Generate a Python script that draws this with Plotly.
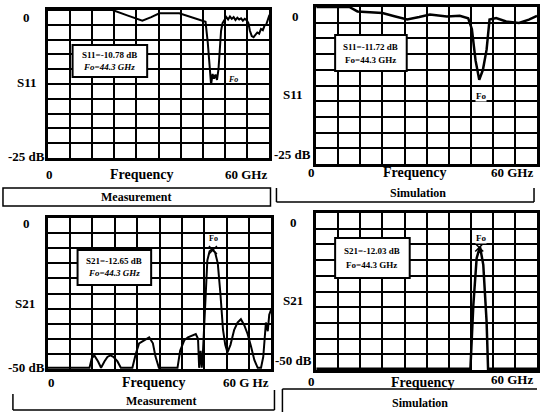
import plotly.graph_objects as go

# ---------------- data ----------------
f_s11_meas = [0, 17.5, 21.5, 25.6, 28, 30.2, 35.6, 38.5, 41.0, 42.7, 43.3, 43.8, 44.2, 44.6, 45.0, 45.4,
              45.8, 46.2, 46.6, 46.9, 47.3, 47.8, 48.3, 48.8, 49.3, 49.8, 50.3, 50.8, 51.3, 51.8, 52.3,
              52.8, 53.3, 53.8, 54.3, 54.7, 55.2, 55.7, 56.2, 56.7, 57.2, 57.7, 58.2, 58.7, 59.1, 59.6, 60]
s11_meas = [0, 0, -0.9, -1.8, -1.2, -0.55, -0.55, -1.1, -1.7, -2.0, -5.5, -9.5, -12.6, -10.8, -11.6, -10.9,
            -11.8, -10.0, -6.5, -3.5, -2.2, -1.6, -1.2, -1.6, -1.1, -1.5, -1.2, -1.7, -1.3, -1.6, -1.4,
            -1.8, -1.5, -1.7, -2.2, -3.5, -4.4, -4.6, -4.2, -3.8, -4.0, -3.2, -3.4, -2.6, -2.5, -1.5, -0.8]

f_s11_sim = [0, 9, 11.2, 18, 21.5, 24.7, 28, 30.9, 35.5, 39, 41.3, 42.3, 43.3, 44.3, 45.3, 46.3, 47.1,
             48.9, 51.6, 55.1, 57.8, 60]
s11_sim = [0, 0, -0.7, -0.96, -1.5, -2.0, -1.6, -1.2, -1.5, -1.4, -1.8, -3.5, -8.5, -11.6, -10.0, -6.8,
           -2.0, -1.75, -2.3, -2.55, -2.0, -1.4]

f_s21_meas = [0, 11.2, 11.8, 12.5, 13.5, 14.3, 15.2, 16.0, 16.8, 17.6, 18.7, 19.6, 22.7, 23.6, 24.5,
              25.8, 27.2, 28.2, 28.9, 29.8, 34.8, 35.5, 36.6, 37.6, 38.8, 39.7, 40.3, 40.6, 41.0, 41.3,
              41.6, 42.0, 42.4, 42.8, 43.4, 44.1, 44.9, 45.6, 46.3, 47.0, 47.6, 48.2, 49.0, 50.0, 50.9,
              51.8, 52.7, 53.6, 54.5, 55.4, 56.3, 57.2, 57.8, 58.2, 58.5, 59.0, 59.4, 60]
s21_meas = [-49.6, -49.6, -46.5, -45.5, -47.5, -49.6, -47.5, -46.0, -45.5, -46.0, -47.5, -49.6, -49.6,
            -45.0, -41.5, -40.4, -39.5, -41.5, -45.9, -49.6, -49.6, -44.0, -40.5, -39.5, -38.8, -38.4,
            -40.0, -49.6, -44.0, -49.6, -45.0, -35.0, -22.0, -14.0, -11.0, -10.3, -11.5, -15.0, -25.0,
            -37.0, -42.0, -44.5, -42.0, -37.0, -34.6, -33.5, -35.5, -38.4, -42.5, -47.0, -49.6, -49.6,
            -45.9, -40.0, -34.6, -37.5, -32.0, -30.0]

f_s21_sim = [0, 41.9, 42.7, 43.6, 44.5, 45.4, 46.3, 46.7, 60]
s21_sim = [-49.6, -49.6, -29.3, -14.4, -10.7, -16.5, -34.6, -49.6, -49.6]

fo_ghz = 44.3
fo_peak_meas = -10.6
fo_peak_sim = -11.0

box_texts = {
    "tl": ["S11=-10.78 dB", "Fo=44.3 GHz"],
    "tr": ["S11=-11.72 dB", "Fo=44.3 GHz"],
    "bl": ["S21=-12.65 dB", "Fo=44.3 GHz"],
    "br": ["S21=-12.03 dB", "Fo=44.3 GHz"],
}
x_tick_labels = ["0", "60 GHz"]
x_title = "Frequency"

# ---------------- layout helpers ----------------
W, H = 540, 412
FONT = "Liberation Serif"


def px(x):
    return x / W


def py(y):
    return 1 - y / H


panels = {
    # name: (x0, x1, ytop, ybottom, ymin)
    "tl": (48, 271, 10, 158, -25),
    "tr": (318, 540, 7, 164, -25),
    "bl": (48, 273, 218, 369, -50),
    "br": (318, 540, 213, 370, -50),
}
axis_ids = {"tl": "", "tr": "2", "bl": "3", "br": "4"}

fig = go.Figure()

traces = {
    "tl": (f_s11_meas, s11_meas, 2),
    "tr": (f_s11_sim, s11_sim, 2.5),
    "bl": (f_s21_meas, s21_meas, 2),
    "br": (f_s21_sim, s21_sim, 2.5),
}

layout = dict(width=W, height=H, margin=dict(l=0, r=0, t=0, b=0),
              paper_bgcolor="white", plot_bgcolor="white", showlegend=False)

for name, (x0, x1, yt, yb, ymin) in panels.items():
    aid = axis_ids[name]
    fx, fy, lw = traces[name]
    fig.add_trace(go.Scatter(x=fx, y=fy, mode="lines", line=dict(color="black", width=lw),
                             xaxis="x" + aid, yaxis="y" + aid, hoverinfo="skip"))
    common = dict(showgrid=True, gridcolor="black", gridwidth=2, showline=True, mirror=True,
                  linecolor="black", linewidth=3, showticklabels=False, ticks="", zeroline=False,
                  fixedrange=True)
    layout["xaxis" + aid] = dict(domain=[px(x0), px(x1)], range=[0, 60], dtick=6, tick0=0,
                                 anchor="y" + aid, **common)
    layout["yaxis" + aid] = dict(domain=[py(yb), py(yt)], range=[ymin, 0], dtick=abs(ymin) / 10,
                                 tick0=0, anchor="x" + aid, **common)

# Fo peak markers on S21 plots
for aid, yv in (("3", fo_peak_meas), ("4", fo_peak_sim)):
    fig.add_trace(go.Scatter(x=[fo_ghz], y=[yv], mode="markers", xaxis="x" + aid, yaxis="y" + aid,
                             marker=dict(symbol="x-thin-open", size=8, color="black",
                                         line=dict(color="black", width=1.5)),
                             hoverinfo="skip"))

fig.update_layout(**layout)

ann = []
shapes = []


def text(x, y, s, size=13, xanchor="center", bg=None, italic=False):
    t = "<b>" + (("<i>" + s + "</i>") if italic else s) + "</b>"
    d = dict(x=px(x), y=py(y), xref="paper", yref="paper", text=t, showarrow=False,
             xanchor=xanchor, yanchor="middle", font=dict(family=FONT, size=size, color="black"))
    if bg:
        d["bgcolor"] = bg
        d["borderpad"] = 0
    ann.append(d)


def line(x0, y0, x1, y1, w=1.5):
    shapes.append(dict(type="line", xref="paper", yref="paper", x0=px(x0), y0=py(y0), x1=px(x1),
                       y1=py(y1), line=dict(color="black", width=w)))


def rect(x0, y0, x1, y1, w=2):
    shapes.append(dict(type="rect", xref="paper", yref="paper", x0=px(x0), y0=py(y0), x1=px(x1),
                       y1=py(y1), line=dict(color="black", width=w), fillcolor="white", layer="above"))


# ---- top-left ----
text(27, 18, "0")
text(27, 82, "S11")
text(47, 156, "-25 dB", xanchor="right")
text(50, 175, x_tick_labels[0])
text(143, 175, x_title, size=14)
text(271, 175, x_tick_labels[1], xanchor="right")
rect(73, 45, 148, 77)
text(110, 55, box_texts["tl"][0], size=9)
text(110, 67, box_texts["tl"][1], size=9, italic=True)
text(234, 79, "Fo", size=8, italic=True)
rect(3, 188, 272, 206, w=1.5)
text(137, 197, "Measurement", size=12)

# ---- top-right ----
text(297, 17, "0")
text(295, 94, "S11")
text(315, 155, "-25 dB", xanchor="right")
text(313, 173, x_tick_labels[0])
text(417, 173, x_title, size=14)
text(538, 173, x_tick_labels[1], xanchor="right")
rect(337, 35, 409, 71)
text(373, 47, box_texts["tr"][0], size=9)
text(373, 60, box_texts["tr"][1], size=9)
text(484, 96, "Fo", size=9, bg="white")
line(278, 188, 278, 202)
line(278, 202, 537, 202)
line(537, 188, 537, 202)
text(420, 193, "Simulation", size=12)

# ---- bottom-left ----
text(27, 223, "0")
text(25, 303, "S21")
text(47, 367, "-50 dB", xanchor="right")
text(52, 382, x_tick_labels[0])
text(155, 382, x_title, size=14)
text(273, 382, "60 G Hz", xanchor="right")
rect(78, 250, 152, 285)
text(115, 261, box_texts["bl"][0], size=9)
text(115, 273, box_texts["bl"][1], size=9, italic=True)
text(215, 238, "Fo", size=8)
line(13, 394, 13, 410)
line(13, 410, 276, 410)
line(276, 390, 276, 410)
text(162, 401, "Measurement", size=12)

# ---- bottom-right ----
text(295, 222, "0")
text(295, 300, "S21")
text(316, 360, "-50 dB", xanchor="right")
text(313, 381, x_tick_labels[0])
text(425, 382, x_title, size=14)
text(538, 379, x_tick_labels[1], xanchor="right")
rect(337, 238, 412, 278)
text(374, 251, box_texts["br"][0], size=9)
text(374, 265, box_texts["br"][1], size=9)
text(484, 238, "Fo", size=9, bg="white")
line(284, 389, 540, 389)
line(284, 389, 284, 412)
text(422, 403, "Simulation", size=12)

fig.update_layout(annotations=ann, shapes=shapes)
fig.write_html("out.html", config={"displayModeBar": False},
               post_script="document.body.style.margin='0';")
